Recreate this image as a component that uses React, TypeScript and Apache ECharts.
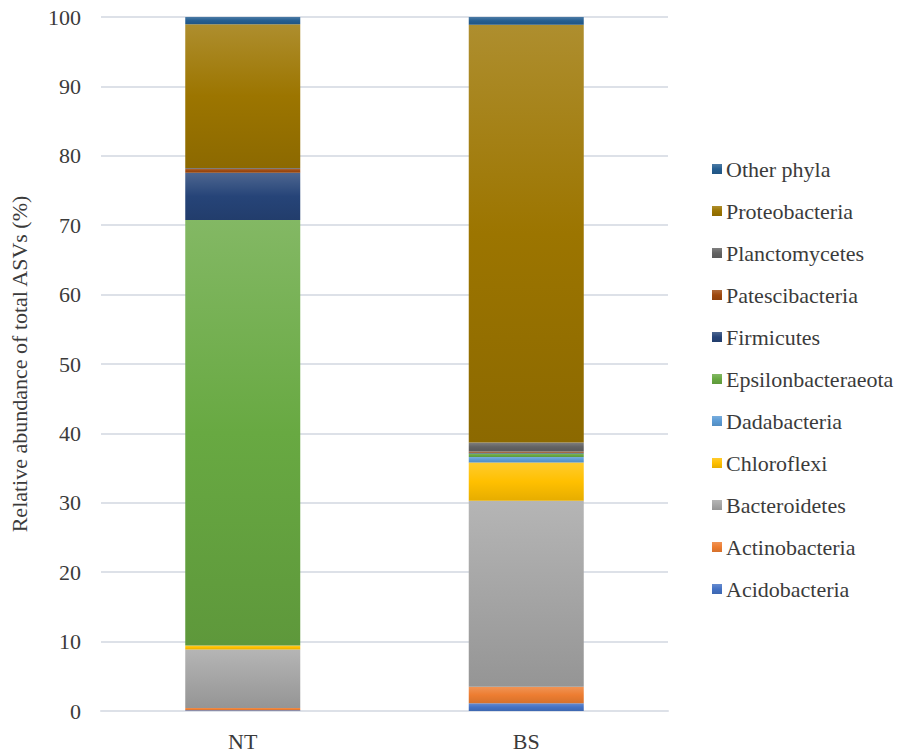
import React, { useEffect, useRef } from "react";
import * as echarts from "echarts";

const categories = ["NT", "BS"];
const phyla = [
  "Acidobacteria",
  "Actinobacteria",
  "Bacteroidetes",
  "Chloroflexi",
  "Dadabacteria",
  "Epsilonbacteraeota",
  "Firmicutes",
  "Patescibacteria",
  "Planctomycetes",
  "Proteobacteria",
  "Other phyla",
];
const ntValues = [0.1, 0.35, 8.4, 0.6, 0, 61.3, 6.8, 0.6, 0.1, 20.7, 1.05];
const bsValues = [1.1, 2.4, 26.8, 5.5, 0.8, 0.5, 0.1, 0.2, 1.3, 60.2, 1.1];
const colors = [
  "#4472C4",
  "#ED7D31",
  "#A5A5A5",
  "#FFC000",
  "#5B9BD5",
  "#68A942",
  "#264478",
  "#9E480E",
  "#636363",
  "#9C7500",
  "#255E91",
];
const yTicks = [0, 100, 10];

const FONT = '"Liberation Serif", "Times New Roman", serif';
const TEXT = "#3b3b3b";

function mix(hex: string, target: number, t: number) {
  const n = parseInt(hex.slice(1), 16);
  const r = (n >> 16) & 255, g = (n >> 8) & 255, b = n & 255;
  const f = (c: number) => Math.round(c + (target - c) * t);
  return `rgb(${f(r)},${f(g)},${f(b)})`;
}

function gradient(hex: string) {
  return new echarts.graphic.LinearGradient(0, 0, 0, 1, [
    { offset: 0, color: mix(hex, 255, 0.18) },
    { offset: 0.5, color: hex },
    { offset: 1, color: mix(hex, 0, 0.1) },
  ]);
}

export default function App() {
  const ref = useRef<HTMLDivElement>(null);
  useEffect(() => {
    if (!ref.current) return;
    const chart = echarts.init(ref.current, undefined, { renderer: "svg" });
    chart.setOption({
      animation: false,
      backgroundColor: "#ffffff",
      textStyle: { fontFamily: FONT },
      grid: { left: 98, right: 241, top: 17, bottom: 42, containLabel: false },
      legend: {
        orient: "vertical",
        left: 707,
        top: 153,
        data: [...phyla].reverse(),
        itemWidth: 10,
        itemHeight: 10,
        itemGap: 20,
        icon: "rect",
        textStyle: { fontFamily: FONT, fontSize: 22, color: TEXT, lineHeight: 21, padding: [0, 0, 0, -1] },
      },
      xAxis: {
        type: "category",
        data: categories,
        axisLine: { show: true, lineStyle: { color: "#dde1e8", width: 2 } },
        axisTick: { show: false },
        axisLabel: { fontFamily: FONT, fontSize: 22, color: TEXT, margin: 19 },
      },
      yAxis: {
        type: "value",
        min: yTicks[0],
        max: yTicks[1],
        interval: yTicks[2],
        name: "Relative abundance of total ASVs (%)",
        nameLocation: "middle",
        nameGap: 71,
        nameTextStyle: { fontFamily: FONT, fontSize: 22, color: TEXT },
        axisLine: { show: false },
        axisTick: { show: false },
        axisLabel: { fontFamily: FONT, fontSize: 22, color: TEXT, margin: 20 },
        splitLine: { lineStyle: { color: "#dde1e8", width: 2 } },
      },
      series: phyla.map((name, i) => ({
        name,
        type: "bar",
        stack: "total",
        barWidth: 115,
        data: [ntValues[i], bsValues[i]],
        color: colors[i],
        itemStyle: { color: gradient(colors[i]) },
      })),
    });
    return () => chart.dispose();
  }, []);
  return (
    <div
      ref={ref}
      style={{ position: "fixed", left: 0, top: 0, width: 909, height: 753 }}
    />
  );
}
